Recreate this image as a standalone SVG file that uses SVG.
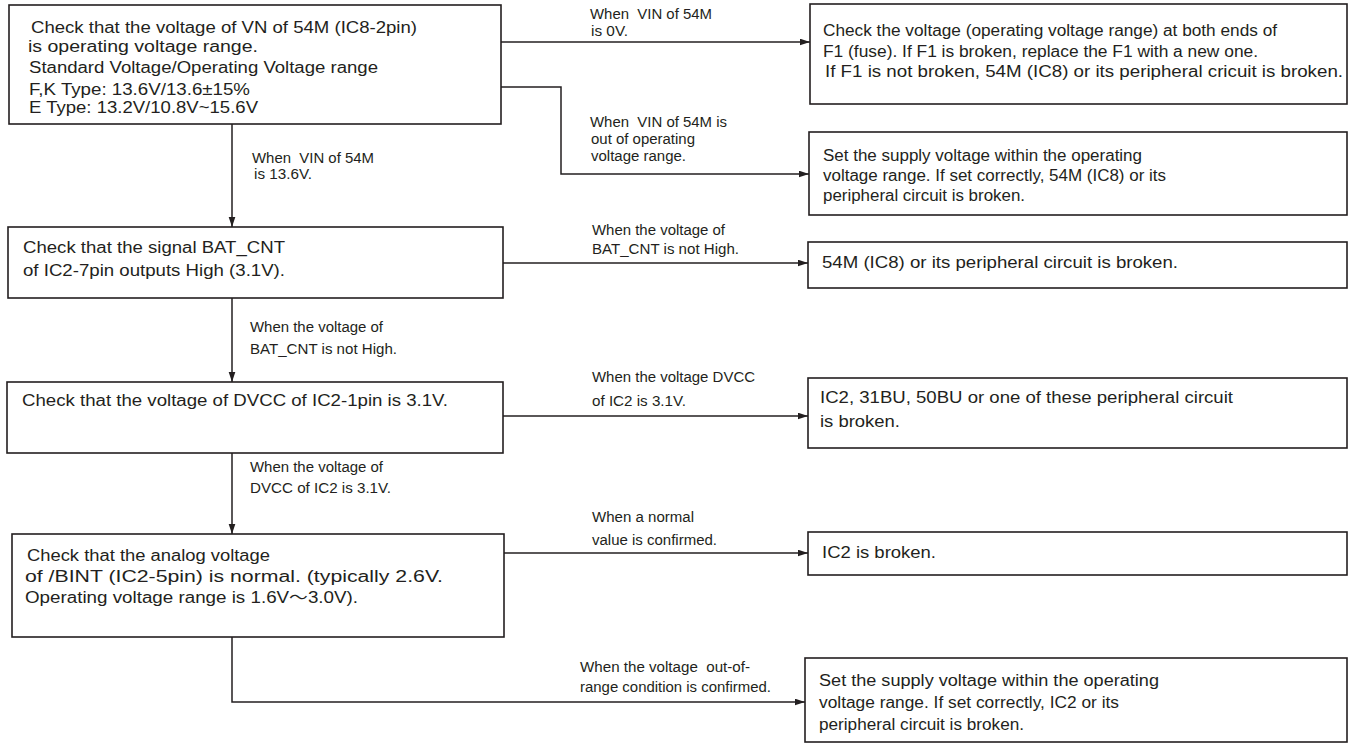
<svg xmlns="http://www.w3.org/2000/svg" width="1353" height="744" viewBox="0 0 1353 744">
<style>
  .box { fill: #ffffff; stroke: #231f20; stroke-width: 1.6; }
  .t { font-family: "Liberation Sans", Arial, "Noto Sans CJK JP", sans-serif; font-size: 16px; fill: #231f20; }
  .lb { font-family: "Liberation Sans", Arial, sans-serif; font-size: 14px; fill: #231f20; white-space: pre; }
  .con { fill: none; stroke: #231f20; stroke-width: 1.5; }
</style>
<defs>
  <marker id="arr" markerUnits="userSpaceOnUse" markerWidth="11" markerHeight="8" refX="10.5" refY="3.5" orient="auto">
    <path d="M0,0 L10.5,3.5 L0,7 Z" fill="#231f20"/>
  </marker>
</defs>
<rect width="1353" height="744" fill="#ffffff"/>

<g id="connectors">
  <path class="con" d="M501,42 H810" marker-end="url(#arr)"/>
  <path class="con" d="M501,87 H561 V174 H809" marker-end="url(#arr)"/>
  <path class="con" d="M232,124 V227" marker-end="url(#arr)"/>
  <path class="con" d="M503,263 H808" marker-end="url(#arr)"/>
  <path class="con" d="M232,298 V382" marker-end="url(#arr)"/>
  <path class="con" d="M503,416 H808" marker-end="url(#arr)"/>
  <path class="con" d="M232,453 V534" marker-end="url(#arr)"/>
  <path class="con" d="M504,553 H808" marker-end="url(#arr)"/>
  <path class="con" d="M232,637 V702 H805" marker-end="url(#arr)"/>
  <g id="connector-labels">
    <text class="lb" xml:space="preserve" x="590" y="19" textLength="122" lengthAdjust="spacingAndGlyphs">When  VIN of 54M</text>
    <text class="lb" x="591" y="36" textLength="37" lengthAdjust="spacingAndGlyphs">is 0V.</text>
    <text class="lb" xml:space="preserve" x="590" y="127" textLength="137" lengthAdjust="spacingAndGlyphs">When  VIN of 54M is</text>
    <text class="lb" x="591" y="144" textLength="104" lengthAdjust="spacingAndGlyphs">out of operating</text>
    <text class="lb" x="591" y="161" textLength="95" lengthAdjust="spacingAndGlyphs">voltage range.</text>
    <text class="lb" xml:space="preserve" x="252" y="163" textLength="122" lengthAdjust="spacingAndGlyphs">When  VIN of 54M</text>
    <text class="lb" x="254" y="179" textLength="58" lengthAdjust="spacingAndGlyphs">is 13.6V.</text>
    <text class="lb" x="592" y="235" textLength="133" lengthAdjust="spacingAndGlyphs">When the voltage of</text>
    <text class="lb" x="592" y="254" textLength="147" lengthAdjust="spacingAndGlyphs">BAT_CNT is not High.</text>
    <text class="lb" x="250" y="332" textLength="133" lengthAdjust="spacingAndGlyphs">When the voltage of</text>
    <text class="lb" x="250" y="354" textLength="147" lengthAdjust="spacingAndGlyphs">BAT_CNT is not High.</text>
    <text class="lb" x="592" y="382" textLength="163" lengthAdjust="spacingAndGlyphs">When the voltage DVCC</text>
    <text class="lb" x="592" y="406" textLength="94" lengthAdjust="spacingAndGlyphs">of IC2 is 3.1V.</text>
    <text class="lb" x="250" y="472" textLength="133" lengthAdjust="spacingAndGlyphs">When the voltage of</text>
    <text class="lb" x="250" y="493" textLength="141" lengthAdjust="spacingAndGlyphs">DVCC of IC2 is 3.1V.</text>
    <text class="lb" x="592" y="522" textLength="102" lengthAdjust="spacingAndGlyphs">When a normal</text>
    <text class="lb" x="592" y="545" textLength="125" lengthAdjust="spacingAndGlyphs">value is confirmed.</text>
    <text class="lb" xml:space="preserve" x="580" y="672" textLength="170" lengthAdjust="spacingAndGlyphs">When the voltage  out-of-</text>
    <text class="lb" x="580" y="692" textLength="191" lengthAdjust="spacingAndGlyphs">range condition is confirmed.</text>
  </g>
</g>

<g id="n1">
  <rect class="box" x="9" y="5" width="492" height="119"/>
  <text class="t" x="31" y="33" textLength="386" lengthAdjust="spacingAndGlyphs">Check that the voltage of VN of 54M (IC8-2pin)</text>
  <text class="t" x="28" y="52" textLength="230" lengthAdjust="spacingAndGlyphs">is operating voltage range.</text>
  <text class="t" x="29" y="73" textLength="349" lengthAdjust="spacingAndGlyphs">Standard Voltage/Operating Voltage range</text>
  <text class="t" x="29" y="95" textLength="221" lengthAdjust="spacingAndGlyphs">F,K Type: 13.6V/13.6±15%</text>
  <text class="t" x="29" y="113" textLength="229" lengthAdjust="spacingAndGlyphs">E Type: 13.2V/10.8V~15.6V</text>
</g>

<g id="n2">
  <rect class="box" x="810" y="4" width="537" height="100"/>
  <text class="t" x="823" y="36" textLength="454" lengthAdjust="spacingAndGlyphs">Check the voltage (operating voltage range) at both ends of</text>
  <text class="t" x="823" y="57" textLength="435" lengthAdjust="spacingAndGlyphs">F1 (fuse). If F1 is broken, replace the F1 with a new one.</text>
  <text class="t" x="825" y="77" textLength="518" lengthAdjust="spacingAndGlyphs">If F1 is not broken, 54M (IC8) or its peripheral cricuit is broken.</text>
</g>

<g id="n3">
  <rect class="box" x="809" y="132" width="538" height="83"/>
  <text class="t" x="823" y="161" textLength="319" lengthAdjust="spacingAndGlyphs">Set the supply voltage within the operating</text>
  <text class="t" x="823" y="181" textLength="343" lengthAdjust="spacingAndGlyphs">voltage range. If set correctly, 54M (IC8) or its</text>
  <text class="t" x="823" y="201" textLength="202" lengthAdjust="spacingAndGlyphs">peripheral circuit is broken.</text>
</g>

<g id="n4">
  <rect class="box" x="8" y="227" width="495" height="71"/>
  <text class="t" x="23" y="253" textLength="262" lengthAdjust="spacingAndGlyphs">Check that the signal BAT_CNT</text>
  <text class="t" x="23" y="276" textLength="262" lengthAdjust="spacingAndGlyphs">of IC2-7pin outputs High (3.1V).</text>
</g>

<g id="n5">
  <rect class="box" x="808" y="242" width="539" height="46"/>
  <text class="t" x="822" y="268" textLength="356" lengthAdjust="spacingAndGlyphs">54M (IC8) or its peripheral circuit is broken.</text>
</g>

<g id="n6">
  <rect class="box" x="7" y="382" width="496" height="71"/>
  <text class="t" x="22" y="406" textLength="426" lengthAdjust="spacingAndGlyphs">Check that the voltage of DVCC of IC2-1pin is 3.1V.</text>
</g>

<g id="n7">
  <rect class="box" x="808" y="378" width="539" height="70"/>
  <text class="t" x="820" y="403" textLength="413" lengthAdjust="spacingAndGlyphs">IC2, 31BU, 50BU or one of these peripheral circuit</text>
  <text class="t" x="820" y="427" textLength="80" lengthAdjust="spacingAndGlyphs">is broken.</text>
</g>

<g id="n8">
  <rect class="box" x="12" y="534" width="492" height="103"/>
  <text class="t" x="27" y="561" textLength="243" lengthAdjust="spacingAndGlyphs">Check that the analog voltage</text>
  <text class="t" x="25" y="582" textLength="418" lengthAdjust="spacingAndGlyphs">of /BINT (IC2-5pin) is normal. (typically 2.6V.</text>
  <text class="t" x="25" y="603" textLength="333" lengthAdjust="spacingAndGlyphs">Operating voltage range is 1.6V～3.0V).</text>
</g>

<g id="n9">
  <rect class="box" x="808" y="532" width="539" height="43"/>
  <text class="t" x="822" y="558" textLength="114" lengthAdjust="spacingAndGlyphs">IC2 is broken.</text>
</g>

<g id="n10">
  <rect class="box" x="805" y="658" width="542" height="84"/>
  <text class="t" x="819" y="686" textLength="340" lengthAdjust="spacingAndGlyphs">Set the supply voltage within the operating</text>
  <text class="t" x="819" y="708" textLength="300" lengthAdjust="spacingAndGlyphs">voltage range. If set correctly, IC2 or its</text>
  <text class="t" x="819" y="730" textLength="205" lengthAdjust="spacingAndGlyphs">peripheral circuit is broken.</text>
</g>
</svg>
